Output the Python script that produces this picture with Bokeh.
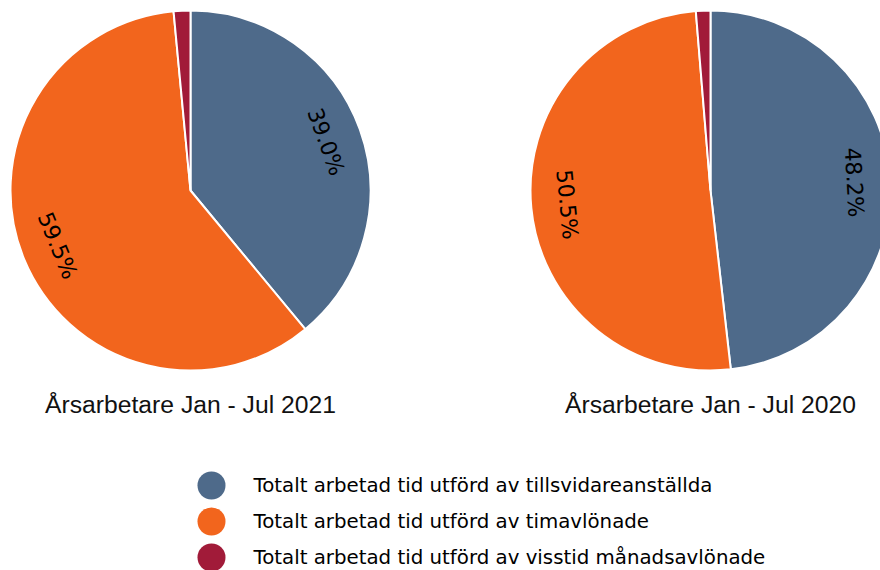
import math
from bokeh.plotting import figure
from bokeh.models import Range1d, ColumnDataSource
from bokeh.core.properties import value
from bokeh.embed import file_html
from bokeh.resources import INLINE

categories = [
    "Totalt arbetad tid utförd av tillsvidareanställda",
    "Totalt arbetad tid utförd av timavlönade",
    "Totalt arbetad tid utförd av visstid månadsavlönade",
]
colors = ["#4E6A8A", "#F2651D", "#A11B39"]
values_2021 = [39.0, 59.5, 1.5]
values_2020 = [48.2, 50.5, 1.3]
titles = ["Årsarbetare Jan - Jul 2021", "Årsarbetare Jan - Jul 2020"]

W, H = 880, 570
p = figure(width=W, height=H, output_backend="svg", toolbar_location=None,
           x_range=Range1d(0, W), y_range=Range1d(-H, 0),
           min_border=0, outline_line_color=None)
p.axis.visible = False
p.grid.visible = False
p.background_fill_color = "white"

R = 180
pies = [(190, -190, values_2021, titles[0]), (710, -190, values_2020, titles[1])]

for cx, cy, vals, title in pies:
    total = sum(vals)
    cum = 0.0
    starts, ends, lx, ly, lang, ltxt = [], [], [], [], [], []
    for v in vals:
        a0 = math.radians(90 - cum / total * 360)
        cum += v
        a1 = math.radians(90 - cum / total * 360)
        starts.append(a0)
        ends.append(a1)
        if v / total > 0.05:
            mid = (a0 + a1) / 2
            lx.append(cx + 0.8 * R * math.cos(mid))
            ly.append(cy + 0.8 * R * math.sin(mid))
            rot = mid - math.pi / 2
            while rot > math.pi:
                rot -= 2 * math.pi
            while rot < -math.pi:
                rot += 2 * math.pi
            if rot > math.pi / 2 or rot < -math.pi / 2:
                rot += math.pi
            lang.append(rot)
            ltxt.append(f"{v:.1f}%")
    src = ColumnDataSource(dict(s=starts, e=ends, c=colors))
    p.wedge(x=cx, y=cy, radius=R, start_angle="s", end_angle="e",
            direction="clock", fill_color="c", line_color="white",
            line_width=2, source=src)
    p.text(x=lx, y=ly, text=ltxt, angle=lang, text_align="center",
           text_baseline="middle", text_font=value("DejaVu Sans"),
           text_font_size="22px", text_color="black")
    p.text(x=[cx], y=[-404], text=[title], text_align="center",
           text_baseline="middle", text_font=value("Liberation Sans"),
           text_font_size="24.7px", text_color="#111111")

leg_y = [-485, -521, -557]
p.scatter(x=[211] * 3, y=leg_y, size=28, marker="circle",
          fill_color=colors, line_color=None)
p.text(x=[253] * 3, y=leg_y, text=categories, text_align="left",
       text_baseline="middle", text_font=value("DejaVu Sans"),
       text_font_size="19.8px", text_color="black")

open("out.html", "w").write(file_html(p, INLINE))
